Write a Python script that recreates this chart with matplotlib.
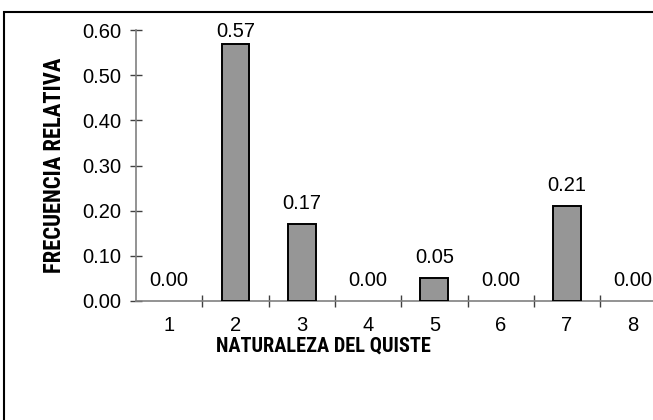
import matplotlib
matplotlib.use("Agg")
import matplotlib.pyplot as plt
from matplotlib.patches import Rectangle
from matplotlib.ticker import FixedLocator
from matplotlib import font_manager

plt.rcParams['font.family'] = ['Liberation Sans', 'DejaVu Sans']

categories = [1, 2, 3, 4, 5, 6, 7, 8]
values = [0.00, 0.57, 0.17, 0.00, 0.05, 0.00, 0.21, 0.00]
yticks = [0.0, 0.1, 0.2, 0.3, 0.4, 0.5, 0.6]
xlabel = "NATURALEZA DEL QUISTE"
ylabel = "FRECUENCIA RELATIVA"

names = {f.name for f in font_manager.fontManager.ttflist}
narrow = None
for cand in ['Liberation Sans Narrow', 'Arial Narrow', 'Roboto Condensed', 'Open Sans Condensed']:
    if cand in names:
        narrow = cand
        break
if narrow:
    label_family = [narrow, 'Liberation Sans', 'DejaVu Sans']
    xl_size, yl_size = 14.7, 16.3
else:
    label_family = ['Liberation Sans', 'DejaVu Sans']
    xl_size, yl_size = 12.5, 13

W, H = 653, 420
fig = plt.figure(figsize=(W / 100, H / 100), dpi=100)

fig.patches.append(Rectangle((4 / W, -0.1), 1.2, 1 - 12 / H + 0.1,
                             transform=fig.transFigure, fill=False,
                             edgecolor='black', linewidth=1.5, zorder=0))

left_px, right_px, top_px, bot_px = 136, 136 + 8 * 66.3, 30, 301
ax = fig.add_axes([left_px / W, 1 - bot_px / H, (right_px - left_px) / W, (bot_px - top_px) / H])
ax.set_facecolor('none')

edges = ['black' if v > 0 else 'none' for v in values]
ax.bar(categories, values, width=0.42, color='#969696', edgecolor=edges, linewidth=1.4, zorder=3)

# data labels: fixed gap above the bar, kept inside the chart area at the top
gap = 0.6 * 15 / (bot_px - top_px)
top_limit = 0.6 * (bot_px - 37) / (bot_px - top_px)
for c, v in zip(categories, values):
    ax.text(c, min(v + gap, top_limit), f"{v:.2f}", ha='center', va='baseline',
            fontsize=14.5, clip_on=False)

ax.set_xlim(0.5, 8.5)
ax.set_ylim(0, 0.6)

for s in ['top', 'right']:
    ax.spines[s].set_visible(False)
for s in ['left', 'bottom']:
    ax.spines[s].set_color('#808080')
    ax.spines[s].set_linewidth(1.2)
ax.spines['bottom'].set_clip_on(False)

ax.set_yticks(yticks)
ax.set_yticklabels([f"{t:.2f}" for t in yticks])
ax.tick_params(axis='y', direction='inout', length=9, width=1, color='#404040',
               labelsize=14.5, pad=6)

ax.set_xticks(categories)
ax.set_xticklabels([str(c) for c in categories])
ax.tick_params(axis='x', which='major', length=0, labelsize=14.5, pad=11)
ax.xaxis.set_minor_locator(FixedLocator([1.5, 2.5, 3.5, 4.5, 5.5, 6.5, 7.5]))
ax.tick_params(axis='x', which='minor', direction='inout', length=9, width=1, color='#404040')

ax.set_xlabel(xlabel, fontsize=xl_size, fontweight='bold', family=label_family)
ax.xaxis.set_label_coords((323 - left_px) / (right_px - left_px), -(337 - bot_px) / (bot_px - top_px))
ax.set_ylabel(ylabel, fontsize=yl_size, fontweight='bold', family=label_family)
ax.yaxis.set_label_coords(-(left_px - 66) / (right_px - left_px), (bot_px - 165) / (bot_px - top_px))

fig.savefig("out.png", dpi=100)
